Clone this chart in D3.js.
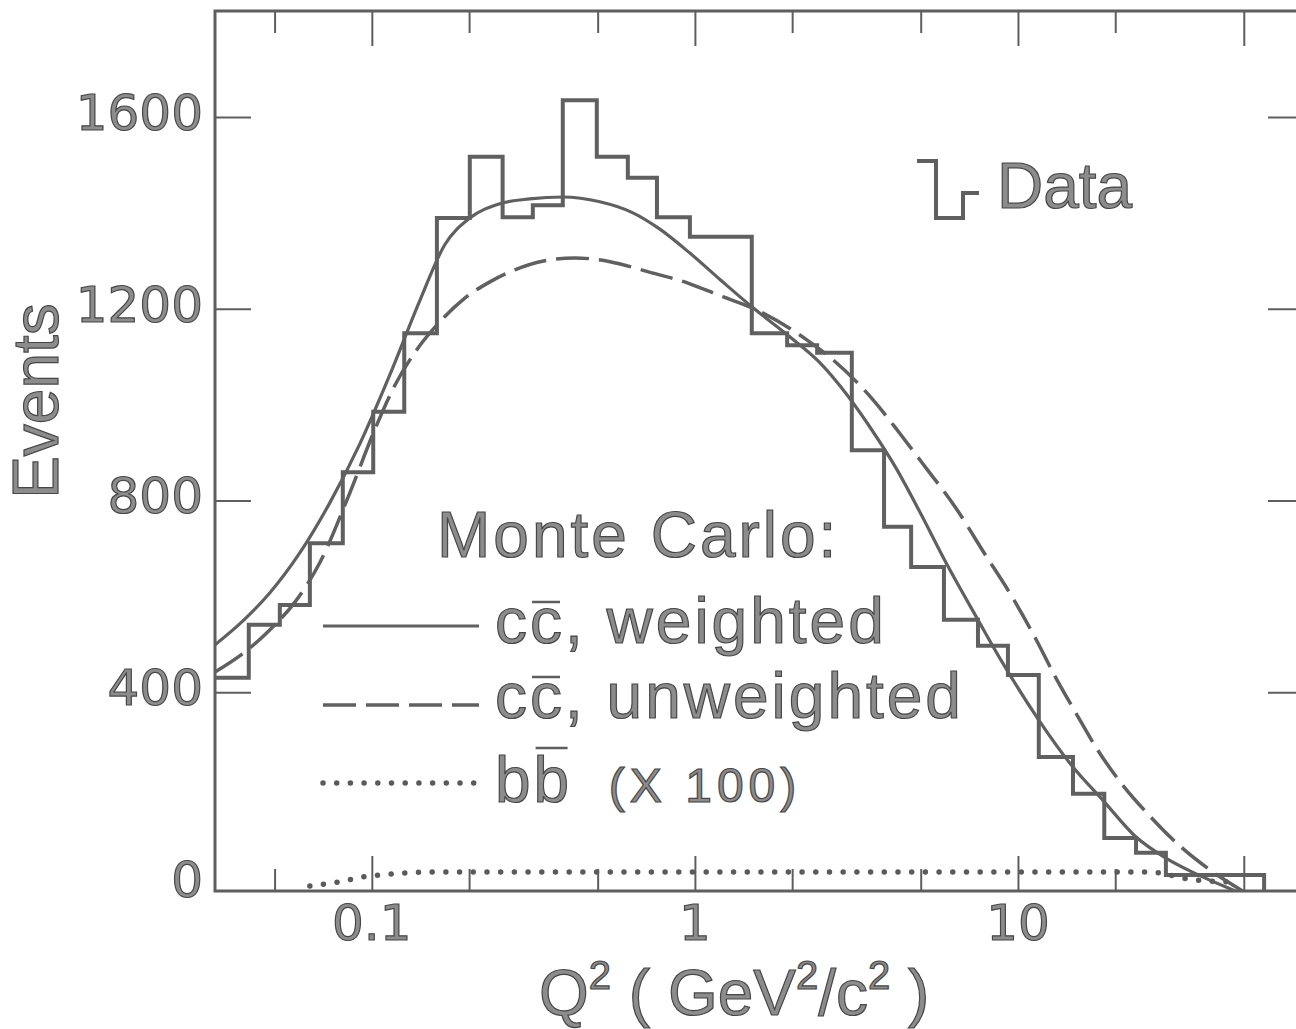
<!DOCTYPE html>
<html>
<head>
<meta charset="utf-8">
<script src="https://cdn.jsdelivr.net/npm/d3@7"></script>
<style>
  html, body { margin: 0; padding: 0; background: #fff; }
  svg { display: block; }
  .frame { fill: none; stroke: #5e5e5e; stroke-width: 3; }
  .axis line { stroke-width: 2; }
  .hist { fill: none; stroke: #606060; stroke-width: 4; stroke-linejoin: miter; }
  .weighted { fill: none; stroke: #606060; stroke-width: 3.2; }
  .unweighted { fill: none; stroke: #606060; stroke-width: 3.5; stroke-dasharray: 33 10; }
  .bbbar { fill: none; stroke: #5a5a5a; stroke-width: 5.5; stroke-linecap: round; stroke-dasharray: 0 13.7; }
  .bar { stroke: #5e5e5e; stroke-width: 2.5; }
  text { fill: #8c8c8c; stroke: #474747; stroke-width: 1.2px; }
  .num { font-family: "DejaVu Sans", sans-serif; font-size: 50px; }
  .lbl { font-family: "Liberation Sans", Arial, sans-serif; font-size: 64px; }
</style>
</head>
<body>
<svg id="chart"></svg>
<script>
// measured histogram (Data), bins in Q^2
var binEdges = [0.0316, 0.0416, 0.0519, 0.0643, 0.0813, 0.101, 0.126, 0.159, 0.201, 0.254,
                0.315, 0.390, 0.497, 0.620, 0.763, 0.965, 1.21, 1.50, 1.93, 2.39,
                3.06, 3.85, 4.67, 5.90, 7.52, 9.31, 11.6, 14.8, 18.5, 23.2,
                28.7, 36.4, 45.9, 57.8];
var dataCounts = [430, 541, 582, 711, 859, 985, 1149, 1389, 1517, 1391,
                  1416, 1635, 1517, 1473, 1391, 1350, 1350, 1149, 1124, 1108,
                  905, 745, 661, 551, 497, 436, 265, 188, 96, 65,
                  19, 19, 19];

// Monte Carlo c cbar, weighted (solid)
var weightedQ = [0.0327, 0.0399, 0.0483, 0.0599, 0.0741, 0.0918, 0.114, 0.141, 0.168, 0.201,
                 0.249, 0.308, 0.390, 0.508, 0.643, 0.779, 0.965, 1.20, 1.50, 1.97,
                 2.44, 2.96, 3.53, 4.19, 4.97, 5.99, 7.52, 8.86, 11.6, 14.8,
                 18.3, 23.2, 28.7, 35.6, 47.3];
var weightedV = [499, 549, 607, 691, 795, 918, 1064, 1218, 1333, 1389,
                 1419, 1429, 1433, 1423, 1400, 1366, 1316, 1260, 1204, 1141,
                 1087, 1020, 947, 868, 776, 670, 551, 467, 342, 244,
                 175, 98, 54, 21, -15];

// Monte Carlo c cbar, unweighted (dashed)
var unweightedQ = [0.0327, 0.0405, 0.0483, 0.0578, 0.0690, 0.0855, 0.102, 0.118, 0.139, 0.162,
                   0.194, 0.232, 0.277, 0.343, 0.425, 0.546, 0.700, 0.965, 1.22, 1.50,
                   2.22, 2.68, 3.56, 4.34, 5.19, 6.43, 7.85, 9.51, 11.4, 13.1,
                   15.1, 17.4, 20.5, 25.4, 31.5, 39.0, 49.7];
var unweightedV = [442, 484, 530, 588, 670, 816, 947, 1041, 1118, 1172,
                   1222, 1256, 1281, 1300, 1306, 1298, 1279, 1252, 1225, 1202,
                   1135, 1093, 1010, 937, 868, 784, 691, 603, 509, 430,
                   357, 286, 217, 144, 81, 31, -15];

// Monte Carlo b bbar (x 100), dotted
var bbQ = [0.0643, 0.0785, 0.0945, 0.116, 0.151, 25.6, 34.0, 46.0];
var bbV = [-4, 4, 15, 21, 25, 25, 10, 4];

var xMinorTicks = [0.05, 0.2, 0.5, 2, 5, 20];
var xMajorTicks = [0.1, 1, 10, 50];
var xTickLabels = [0.1, 1, 10];
var yTicks = [400, 800, 1200, 1600];
var yTickLabels = [0, 400, 800, 1200, 1600];

var width = 1296,
    height = 1029;

var x = d3.scaleLog().domain([0.0327, 76.8]).range([215, 1304]);
var y = d3.scaleLinear().domain([-14.6, 1821]).range([891, 11]);

var svg = d3.select("#chart").attr("width", width).attr("height", height);

svg.append("defs").append("clipPath").attr("id", "plot-clip")
    .append("rect")
    .attr("x", x.range()[0]).attr("y", y.range()[1])
    .attr("width", x.range()[1] - x.range()[0])
    .attr("height", y.range()[0] - y.range()[1]);

// ticks, all pointing inwards
function noDomain(g) { g.select(".domain").remove(); }

svg.append("g").attr("class", "axis").attr("color", "#5e5e5e")
    .attr("transform", "translate(0," + y.range()[0] + ")")
    .call(d3.axisTop(x).tickValues(xMinorTicks).tickSize(22).tickFormat(""))
    .call(noDomain);
svg.append("g").attr("class", "axis").attr("color", "#5e5e5e")
    .attr("transform", "translate(0," + y.range()[0] + ")")
    .call(d3.axisTop(x).tickValues(xMajorTicks).tickSize(35).tickFormat(""))
    .call(noDomain);
svg.append("g").attr("class", "axis").attr("color", "#5e5e5e")
    .attr("transform", "translate(0," + y.range()[1] + ")")
    .call(d3.axisBottom(x).tickValues(xMinorTicks).tickSize(22).tickFormat(""))
    .call(noDomain);
svg.append("g").attr("class", "axis").attr("color", "#5e5e5e")
    .attr("transform", "translate(0," + y.range()[1] + ")")
    .call(d3.axisBottom(x).tickValues(xMajorTicks).tickSize(35).tickFormat(""))
    .call(noDomain);
svg.append("g").attr("class", "axis").attr("color", "#5e5e5e")
    .attr("transform", "translate(" + x.range()[0] + ",0)")
    .call(d3.axisRight(y).tickValues(yTicks).tickSize(36).tickFormat(""))
    .call(noDomain);
svg.append("g").attr("class", "axis").attr("color", "#5e5e5e")
    .attr("transform", "translate(" + x.range()[1] + ",0)")
    .call(d3.axisLeft(y).tickValues(yTicks).tickSize(36).tickFormat(""))
    .call(noDomain);

svg.append("rect").attr("class", "frame")
    .attr("x", x.range()[0]).attr("y", y.range()[1])
    .attr("width", x.range()[1] - x.range()[0])
    .attr("height", y.range()[0] - y.range()[1]);

// tick labels
svg.selectAll(".xlab").data(xTickLabels).enter().append("text")
    .attr("class", "num xlab")
    .attr("x", function(d) { return x(d); })
    .attr("y", 940)
    .attr("text-anchor", "middle")
    .text(function(d) { return d; });

svg.selectAll(".ylab").data(yTickLabels).enter().append("text")
    .attr("class", "num ylab")
    .attr("x", 203)
    .attr("y", function(d) { return y(d) + 13; })
    .attr("text-anchor", "end")
    .text(function(d) { return d; });

// axis titles
svg.append("text").attr("class", "lbl")
    .attr("transform", "translate(58,401) rotate(-90)")
    .attr("text-anchor", "middle")
    .text("Events");

var xt = svg.append("text").attr("class", "lbl").attr("x", 539).attr("y", 1015);
xt.append("tspan").text("Q");
xt.append("tspan").attr("font-size", 40).attr("dy", -26).text("2");
xt.append("tspan").attr("dy", 26).text("\u00a0(\u00a0GeV");
xt.append("tspan").attr("font-size", 40).attr("dy", -26).text("2");
xt.append("tspan").attr("dy", 26).text("/c");
xt.append("tspan").attr("font-size", 40).attr("dy", -26).text("2");
xt.append("tspan").attr("dy", 26).text("\u00a0)");

// curves and histogram
var plot = svg.append("g").attr("clip-path", "url(#plot-clip)");

var histPts = dataCounts.map(function(c, i) { return [binEdges[i], c]; });
histPts.push([binEdges[binEdges.length - 1], dataCounts[dataCounts.length - 1]]);
histPts.push([binEdges[binEdges.length - 1], y.domain()[0]]);

plot.append("path").attr("class", "hist")
    .attr("d", d3.line()
        .x(function(d) { return x(d[0]); })
        .y(function(d) { return y(d[1]); })
        .curve(d3.curveStepAfter)(histPts));

var smooth = d3.line()
    .x(function(d) { return x(d[0]); })
    .y(function(d) { return y(d[1]); })
    .curve(d3.curveMonotoneX);

plot.append("path").attr("class", "bbbar")
    .attr("d", smooth(d3.zip(bbQ, bbV)));
plot.append("path").attr("class", "unweighted")
    .attr("d", smooth(d3.zip(unweightedQ, unweightedV)));
plot.append("path").attr("class", "weighted")
    .attr("d", smooth(d3.zip(weightedQ, weightedV)));

// Data legend
svg.append("path").attr("class", "hist")
    .attr("d", "M917,161H936V218H963V193H979");
svg.append("text").attr("class", "lbl").attr("x", 997).attr("y", 208).text("Data");

// Monte Carlo legend
svg.append("text").attr("class", "lbl").attr("x", 437).attr("y", 557)
    .attr("letter-spacing", 3).text("Monte Carlo:");

var legend = [
    {cls: "weighted", y: 626, base: 643, label: "cc, weighted"},
    {cls: "unweighted", y: 705, base: 718, label: "cc, unweighted"},
    {cls: "bbbar", y: 783, base: 802, label: "bb"}
];

legend.forEach(function(d) {
    svg.append("line").attr("class", d.cls)
        .attr("x1", 323).attr("x2", 479)
        .attr("y1", d.y).attr("y2", d.y);
    var t = svg.append("text").attr("class", "lbl")
        .attr("x", 495).attr("y", d.base)
        .attr("letter-spacing", 3)
        .text(d.label);
    if (d.cls === "bbbar") {
        t.append("tspan").attr("font-size", 48).attr("letter-spacing", 5)
            .text("\u00a0\u00a0(X 100)");
    }
    // bar over the second letter
    var box = t.node().getExtentOfChar(1);
    var rise = d.cls === "bbbar" ? 54 : 41;
    svg.append("line").attr("class", "bar")
        .attr("x1", box.x + 2).attr("x2", box.x + (d.cls === "bbbar" ? 34 : 30))
        .attr("y1", d.base - rise).attr("y2", d.base - rise);
});
</script>
</body>
</html>
